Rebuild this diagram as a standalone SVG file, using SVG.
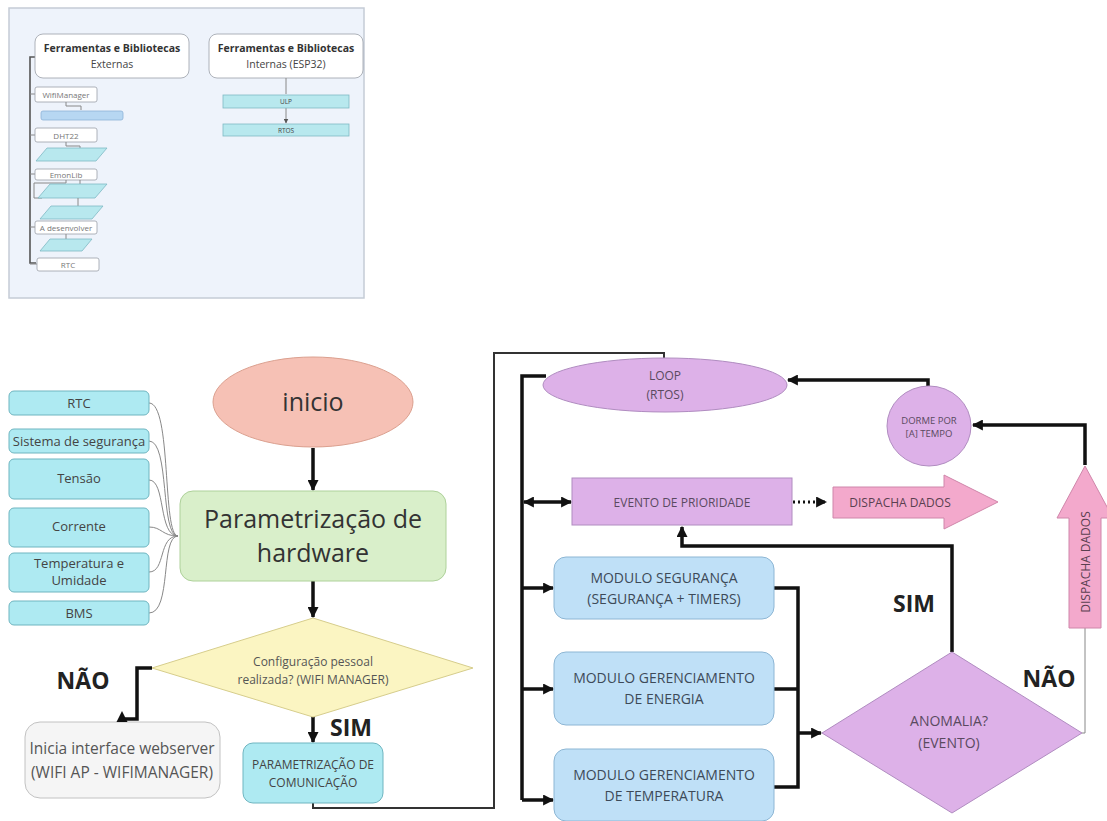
<svg xmlns="http://www.w3.org/2000/svg" width="1107" height="821" viewBox="0 0 1107 821">
<style>
text{font-family:"Open Sans","Noto Sans","Liberation Sans",sans-serif;text-anchor:middle;dominant-baseline:central;fill:#444}
.cy{fill:#aeeaf2;stroke:#6fb5c0;stroke-width:1}
.mod{fill:#bfe0f7;stroke:#8db6d4;stroke-width:1}
.pur{fill:#ddb1e8;stroke:#b08cc0;stroke-width:1}
.pink{fill:#f3a9cc;stroke:#cf86aa;stroke-width:1}
.thk{fill:none;stroke:#111;stroke-width:3.5}
.thin{fill:none;stroke:#333;stroke-width:2}
.hair{fill:none;stroke:#888;stroke-width:1}
.tb{fill:#fff;stroke:#9aa0a8;stroke-width:0.8}
.tp{fill:#b8e8ee;stroke:#7fb9c4;stroke-width:0.8}
.bold{font-weight:700;fill:#222}
</style>
<defs>
<marker id="ah" viewBox="0 0 10 10" refX="9" refY="5" markerWidth="11" markerHeight="11" markerUnits="userSpaceOnUse" orient="auto-start-reverse"><path d="M0,0 L10,5 L0,10 z" fill="#111"/></marker>
<marker id="as" viewBox="0 0 10 10" refX="9" refY="5" markerWidth="5" markerHeight="5" markerUnits="userSpaceOnUse" orient="auto"><path d="M0,0 L10,5 L0,10 z" fill="#555"/></marker>
</defs>
<rect width="1107" height="821" fill="#fff"/>

<!-- thumbnail panel -->
<g id="thumbnail">
<rect x="9" y="8" width="355" height="290" fill="#eef3fb" stroke="#c5ccd6" stroke-width="1.5"/>
<path d="M36,57 H30 V263 H36" fill="none" stroke="#555" stroke-width="1.6"/>
<rect x="35" y="34" width="154" height="44" rx="8" class="tb"/>
<text x="112" y="48" font-size="10.5" class="bold" style="fill:#333">Ferramentas e Bibliotecas</text>
<text x="112" y="64" font-size="10.5">Externas</text>
<rect x="209" y="34" width="154" height="44" rx="8" class="tb"/>
<text x="286" y="48" font-size="10.5" class="bold" style="fill:#333">Ferramentas e Bibliotecas</text>
<text x="286" y="64" font-size="10.5">Internas (ESP32)</text>
<path d="M286,78 V94 M286,108 V123" class="hair" marker-end="url(#as)"/>
<rect x="223" y="95" width="126" height="13" class="tp"/>
<text x="286" y="101.5" font-size="6.5">ULP</text>
<rect x="223" y="124" width="126" height="12" class="tp"/>
<text x="286" y="130" font-size="6.5">RTOS</text>
<path d="M30,94 H35 M30,135 H35 M30,174 H35 M30,227 H35 M30,264 H37" class="hair"/>
<rect x="35" y="87" width="62" height="15" rx="2" class="tb"/>
<text x="66" y="94.5" font-size="8" style="fill:#777">WifiManager</text>
<path d="M66,102 V106 H81 V110" class="hair"/>
<rect x="41" y="111" width="82" height="9" rx="2" fill="#b7d7f2" stroke="#8db3d8" stroke-width="0.8"/>
<rect x="35" y="128" width="62" height="14" rx="2" class="tb"/>
<text x="66" y="135" font-size="8" style="fill:#777">DHT22</text>
<path d="M66,142 V146 H80 V149" class="hair"/>
<polygon points="47,148 107,148 96,161 36,161" class="tp"/>
<rect x="35" y="169" width="62" height="11" rx="2" class="tb"/>
<text x="66" y="174.5" font-size="8" style="fill:#777">EmonLib</text>
<path d="M66,180 V183 H34 V198 H42 M80,180 V185" class="hair"/>
<polygon points="50,184 107,184 95,198 38,198" class="tp"/>
<path d="M78,198 V206" class="hair"/>
<polygon points="51,206 103,206 92,219 40,219" class="tp"/>
<rect x="35" y="221" width="62" height="13" rx="2" class="tb"/>
<text x="66" y="227.5" font-size="8" style="fill:#777">A desenvolver</text>
<path d="M66,234 V239" class="hair"/>
<polygon points="50,239 92,239 82,251 40,251" class="tp"/>
<rect x="37" y="258" width="62" height="13" rx="2" class="tb"/>
<text x="68" y="264.5" font-size="8" style="fill:#777">RTC</text>
</g>

<!-- connectors -->
<g id="connectors">
<path d="M149,403 C172,403 162,536 178,536" class="hair"/>
<path d="M149,441 C170,441 160,536 178,536" class="hair"/>
<path d="M149,480 C166,480 158,536 178,536" class="hair"/>
<path d="M149,527 C162,527 162,536 178,536" class="hair"/>
<path d="M149,572 C166,572 158,536 178,536" class="hair"/>
<path d="M149,613 C172,613 160,536 178,536" class="hair"/>
<path d="M313,448 V490" class="thk" marker-end="url(#ah)"/>
<path d="M313,581 V617" class="thk" marker-end="url(#ah)"/>
<path d="M152,668 H137 V719 H122" class="thk"/>
<path d="M313,717 V742" class="thk" marker-end="url(#ah)"/>
<path d="M313,803 V808 H494 V353 H664 V358" class="thin"/>
<path d="M546,376 H522 V800" class="thk"/>
<path d="M524,502 H571" class="thk" marker-start="url(#ah)" marker-end="url(#ah)"/>
<path d="M522,588 H553" class="thk" marker-end="url(#ah)"/>
<path d="M522,689 H553" class="thk" marker-end="url(#ah)"/>
<path d="M522,800 H553" class="thk" marker-end="url(#ah)"/>
<path d="M774,588 H798 V787 H774 M774,689 H798" class="thk"/>
<path d="M798,733 H821" class="thk" marker-end="url(#ah)"/>
<path d="M952,652 V546 H682 V527" class="thk" marker-end="url(#ah)"/>
<path d="M793,502 H826" fill="none" stroke="#111" stroke-width="3" stroke-dasharray="2,3" marker-end="url(#ah)"/>
<path d="M1082,733 H1085 V628" class="hair"/>
<path d="M1085,465 V425 H973" class="thk" marker-end="url(#ah)"/>
<path d="M928,386 V380 H788" class="thk" marker-end="url(#ah)"/>
</g>

<!-- left list -->
<g id="n-rtc"><rect x="9" y="391" width="140" height="24" rx="5" class="cy"/><text x="79" y="403" font-size="13">RTC</text></g>
<g id="n-seg"><rect x="9" y="429" width="140" height="24" rx="5" class="cy"/><text x="79" y="441" font-size="13">Sistema de segurança</text></g>
<g id="n-tensao"><rect x="9" y="459" width="140" height="40" rx="5" class="cy"/><text x="79" y="478" font-size="13">Tensão</text></g>
<g id="n-corrente"><rect x="9" y="508" width="140" height="39" rx="5" class="cy"/><text x="79" y="526" font-size="13">Corrente</text></g>
<g id="n-temp"><rect x="9" y="553" width="140" height="39" rx="5" class="cy"/><text x="79" y="563" font-size="13">Temperatura e</text><text x="79" y="580" font-size="13">Umidade</text></g>
<g id="n-bms"><rect x="9" y="601" width="140" height="24" rx="5" class="cy"/><text x="79" y="613" font-size="13">BMS</text></g>

<g id="n-inicio"><ellipse cx="313" cy="402" rx="100" ry="45" fill="#f6c1b5" stroke="#dba08f" stroke-width="1"/><text x="313" y="401" font-size="25" style="fill:#333">inicio</text></g>
<g id="n-param"><rect x="180" y="491" width="266" height="90" rx="13" fill="#d9efca" stroke="#aed19a" stroke-width="1"/><text x="313" y="518" font-size="25" style="fill:#333">Parametrização de</text><text x="313" y="552" font-size="25" style="fill:#333">hardware</text></g>
<g id="n-config"><polygon points="313,618 473,668 313,717 152,668" fill="#fbf5c2" stroke="#d6cd8c" stroke-width="1"/><text x="313" y="661" font-size="12" style="fill:#555">Configuração pessoal</text><text x="313" y="679" font-size="12" style="fill:#555">realizada? (WIFI MANAGER)</text></g>
<g id="lbl-nao1"><text x="83" y="680" font-size="23" class="bold">NÃO</text></g>
<g id="lbl-sim1"><text x="351" y="727" font-size="23" class="bold">SIM</text></g>
<g id="n-webserver"><rect x="25" y="722" width="195" height="76" rx="15" fill="#f5f5f5" stroke="#c2c2c2" stroke-width="1"/><text x="122" y="748" font-size="15.5" style="fill:#555">Inicia interface webserver</text><text x="122" y="772" font-size="15.5" style="fill:#555">(WIFI AP - WIFIMANAGER)</text></g>
<polygon points="122,711 116.5,722 127.5,722" fill="#111"/>
<g id="n-paramcom"><rect x="243" y="743" width="140" height="60" rx="10" class="cy"/><text x="313" y="764" font-size="12">PARAMETRIZAÇÃO DE</text><text x="313" y="782" font-size="12">COMUNICAÇÃO</text></g>

<g id="n-loop"><ellipse cx="665" cy="385" rx="122" ry="27" class="pur"/><text x="665" y="375" font-size="12" style="fill:#5a4a60">LOOP</text><text x="665" y="394" font-size="12" style="fill:#5a4a60">(RTOS)</text></g>
<g id="n-dorme"><ellipse cx="929" cy="426" rx="42" ry="40" class="pur"/><text x="929" y="420" font-size="9.5" style="fill:#5a4a60">DORME POR</text><text x="929" y="433" font-size="9.5" style="fill:#5a4a60">[A] TEMPO</text></g>
<g id="n-evento"><rect x="572" y="478" width="220" height="47" class="pur"/><text x="682" y="502" font-size="12" style="fill:#5a4a60">EVENTO DE PRIORIDADE</text></g>
<g id="n-dispacha1"><polygon points="833,487 944,487 944,475 998,502 944,529 944,518 833,518" class="pink"/><text x="900" y="502" font-size="12" style="fill:#5a4050">DISPACHA DADOS</text></g>
<g id="n-dispacha2"><polygon points="1085,466 1113,518 1101,518 1101,628 1069,628 1069,518 1057,518" class="pink"/><text transform="translate(1085,562) rotate(-90)" font-size="12" style="fill:#5a4050">DISPACHA DADOS</text></g>
<g id="n-modseg"><rect x="554" y="557" width="220" height="62" rx="12" class="mod"/><text x="664" y="577" font-size="14" style="fill:#3d4a58">MODULO SEGURANÇA</text><text x="664" y="598" font-size="14" style="fill:#3d4a58">(SEGURANÇA + TIMERS)</text></g>
<g id="n-modene"><rect x="554" y="652" width="220" height="73" rx="12" class="mod"/><text x="664" y="677" font-size="14" style="fill:#3d4a58">MODULO GERENCIAMENTO</text><text x="664" y="698" font-size="14" style="fill:#3d4a58">DE ENERGIA</text></g>
<g id="n-modtemp"><rect x="554" y="749" width="220" height="72" rx="12" class="mod"/><text x="664" y="774" font-size="14" style="fill:#3d4a58">MODULO GERENCIAMENTO</text><text x="664" y="795" font-size="14" style="fill:#3d4a58">DE TEMPERATURA</text></g>
<g id="n-anomalia"><polygon points="952,652 1082,733 952,813 822,733" class="pur"/><text x="949" y="720" font-size="14" style="fill:#5a4a60">ANOMALIA?</text><text x="949" y="742" font-size="14" style="fill:#5a4a60">(EVENTO)</text></g>
<g id="lbl-sim2"><text x="914" y="603" font-size="23" class="bold">SIM</text></g>
<g id="lbl-nao2"><text x="1049" y="678" font-size="23" class="bold">NÃO</text></g>
</svg>
